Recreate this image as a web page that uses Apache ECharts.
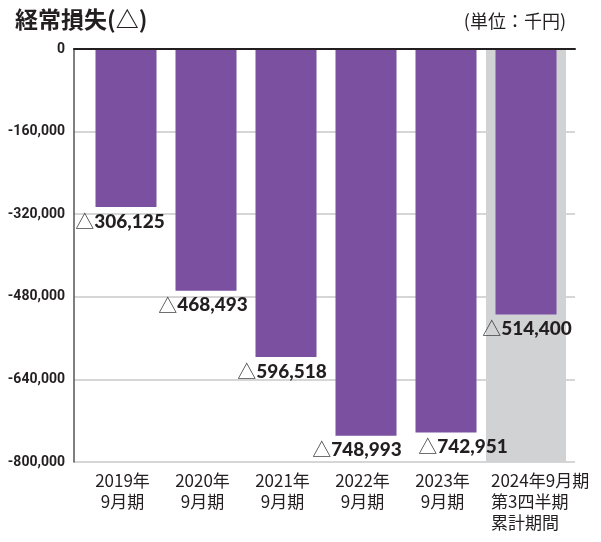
<!DOCTYPE html>
<html>
<head>
<meta charset="utf-8">
<script src="https://cdn.jsdelivr.net/npm/echarts@6/dist/echarts.min.js"></script>
<style>
  html, body { margin: 0; padding: 0; background: #fff; }
  #chart { width: 601px; height: 542px; }
</style>
</head>
<body>
<div id="chart"></div>
<script>
// 経常損失（単位：千円）
const categories = ['2019年\n9月期', '2020年\n9月期', '2021年\n9月期', '2022年\n9月期', '2023年\n9月期', '2024年9月期\n第3四半期\n累計期間'];
const losses = [-306125, -468493, -596518, -748993, -742951, -514400];
const yMin = -800000;
const yMax = 0;
const yStep = 160000;

// small horizontal nudges of the value labels, as in the print
const labelShift = [-6, -3, -4, -9, 17, 1];

const dom = document.getElementById('chart');
const myChart = echarts.init(dom, null, { renderer: 'canvas' });

const ink = '#231f20';

const barData = losses.map((v, i) => ({
  value: v,
  label: { offset: [labelShift[i], 0] }
}));

const option = {
  animation: false,
  title: [
    {
      text: '経常損失(△)',
      left: 10, top: 3,
      textStyle: { fontFamily: 'Noto Sans CJK JP', fontSize: 23, fontWeight: 'bold', color: ink }
    },
    {
      text: '(単位：千円)',
      right: 30, top: 7,
      textStyle: { fontFamily: 'Noto Sans CJK JP', fontSize: 18, fontWeight: 'normal', color: ink }
    }
  ],
  grid: [
    { left: 86, width: 480, top: 49, height: 413 },
    { left: 74, right: 26, top: 49, height: 413 }
  ],
  xAxis: [
    {
      type: 'category',
      gridIndex: 0,
      data: categories,
      axisLine: { show: false },
      axisTick: { show: false },
      axisLabel: {
        interval: 0,
        margin: 8,
        fontFamily: 'Noto Sans CJK JP',
        fontSize: 17,
        lineHeight: 21,
        color: ink,
        formatter: (v, i) => {
          if (i === 5) {
            return v.split('\n').map(s => '{l|' + s + '}').join('\n');
          }
          return '{c|' + v.split('\n').join('}\n{c|') + '}';
        },
        rich: {
          c: {
            fontFamily: 'Noto Sans CJK JP', fontSize: 17, lineHeight: 21, color: ink,
            padding: [0, 7, 0, 0]
          },
          l: {
            fontFamily: 'Noto Sans CJK JP', fontSize: 17, lineHeight: 21, color: ink,
            width: 100, align: 'left', padding: [0, 0, 0, 30]
          }
        }
      }
    },
    {
      type: 'value',
      gridIndex: 1,
      position: 'top',
      min: 0, max: 1,
      z: 3,
      axisLine: { show: true, lineStyle: { color: ink, width: 2 } },
      axisTick: { show: false },
      axisLabel: { show: false },
      splitLine: { show: false }
    }
  ],
  yAxis: [
    {
      type: 'value',
      gridIndex: 0,
      min: yMin, max: yMax, interval: yStep,
      show: false,
      splitLine: { show: false }
    },
    {
      type: 'value',
      gridIndex: 1,
      min: yMin, max: yMax, interval: yStep,
      z: 1,
      axisLine: { show: true, lineStyle: { color: '#555', width: 1.5 } },
      axisTick: { show: false },
      axisLabel: {
        margin: 9,
        fontFamily: 'Roboto',
        fontSize: 14,
        fontWeight: 'bold',
        color: ink,
        formatter: v => v === 0 ? '0' : v.toLocaleString('en-US')
      },
      splitLine: { show: true, lineStyle: { color: '#c9c9c9', width: 1.5 } }
    }
  ],
  series: [
    {
      name: 'band',
      type: 'bar',
      xAxisIndex: 0, yAxisIndex: 0,
      data: [],
      z: 0,
      silent: true,
      markArea: {
        silent: true,
        itemStyle: { color: '#d1d2d4' },
        data: [[{ xAxis: categories[5] }, { xAxis: categories[5] }]]
      }
    },
    {
      name: '経常損失',
      type: 'bar',
      xAxisIndex: 0, yAxisIndex: 0,
      barWidth: 61,
      barGap: '-100%',
      z: 2,
      itemStyle: { color: '#7b50a0' },
      label: {
        show: true,
        position: 'bottom',
        distance: 5,
        formatter: p => '{t|△}{n|' + Math.abs(p.value).toLocaleString('en-US') + '}',
        rich: {
          t: { fontFamily: 'Noto Sans CJK JP', fontSize: 19, color: '#444', fontWeight: 'normal' },
          n: { fontFamily: 'Lato', fontSize: 19, fontWeight: 900, color: ink }
        }
      },
      data: barData
    }
  ]
};

if (option && typeof option === 'object') {
  myChart.setOption(option);
}

window.addEventListener('resize', myChart.resize);
</script>
</body>
</html>
